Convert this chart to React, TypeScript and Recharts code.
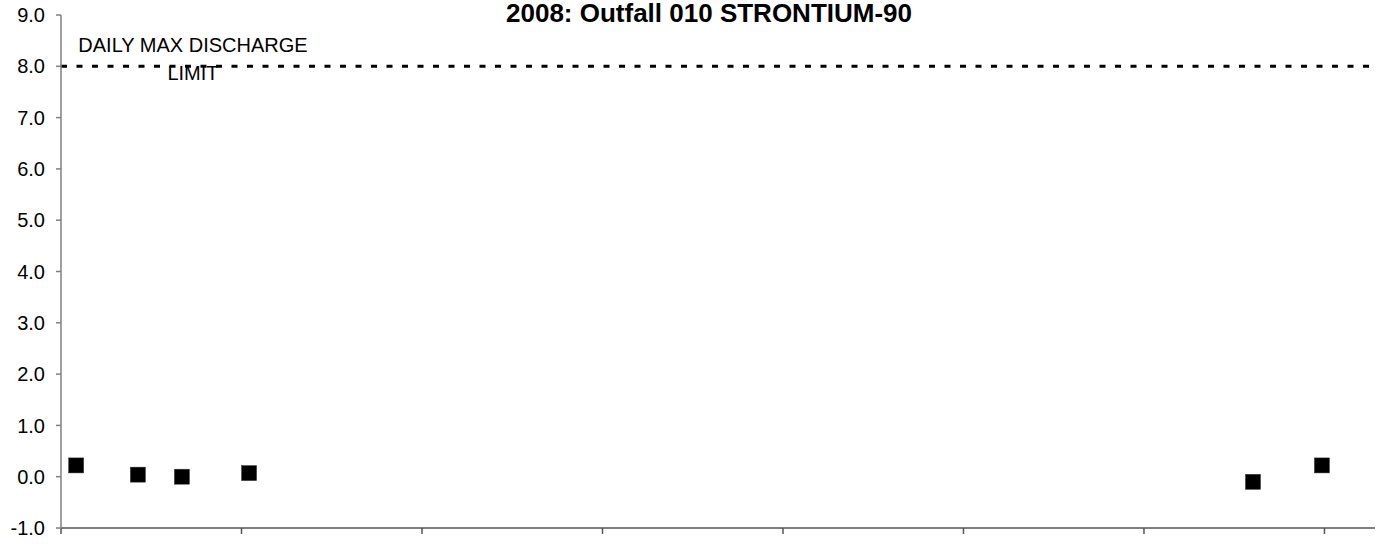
import React from 'react';
import { ScatterChart, Scatter, XAxis, YAxis, ReferenceLine } from 'recharts';

const sampleDays = [4.2, 21.3, 33.5, 52.1, 330.2, 349.3];
const sr90Values = [0.22, 0.04, 0.0, 0.07, -0.1, 0.22];
const yTicks = [-1, 0, 1, 2, 3, 4, 5, 6, 7, 8, 9];
const xTicks = [0, 50, 100, 150, 200, 250, 300, 350];
const limitValue = 8;
const limitLines = ['DAILY MAX DISCHARGE', 'LIMIT'];
const title = '2008: Outfall 010 STRONTIUM-90';

const data = sampleDays.map((d, i) => ({ x: d, y: sr90Values[i] }));

const FONT = '"Liberation Sans", Arial, Helvetica, sans-serif';

const Square = (props: any) => {
  const { cx, cy } = props;
  const s = 15;
  return <rect x={cx - s / 2} y={cy - s / 2} width={s} height={s} fill="#000" stroke="#333" strokeWidth={0.5} />;
};

const LimitLabel = (props: any) => {
  const vb = props.viewBox || {};
  const cx = (vb.x ?? 61) + 132;
  const y = vb.y ?? 67;
  return (
    <g>
      <text x={cx} y={y - 14} textAnchor="middle" fontFamily={FONT} fontSize={20} fill="#000">
        {limitLines[0]}
      </text>
      <text x={cx} y={y + 14} textAnchor="middle" fontFamily={FONT} fontSize={20} fill="#000">
        {limitLines[1]}
      </text>
    </g>
  );
};

export default function App() {
  return (
    <div style={{ position: 'absolute', left: 0, top: 0, width: 1380, height: 550, background: '#fff' }}>
      <div
        style={{
          position: 'absolute',
          left: 0,
          width: 1418,
          top: -2,
          textAlign: 'center',
          fontFamily: FONT,
          fontWeight: 'bold',
          fontSize: 26,
          lineHeight: '30px',
          color: '#000',
          zIndex: 2,
          whiteSpace: 'nowrap',
        }}
      >
        {title}
      </div>
      <ScatterChart width={1380} height={550} margin={{ top: 15, right: 5, bottom: 0, left: 0 }}>
        <XAxis
          type="number"
          dataKey="x"
          domain={[0, 364]}
          ticks={xTicks}
          interval={0}
          tickFormatter={() => ''}
          tick={{ fontSize: 1 }}
          tickSize={6}
          height={22}
          axisLine={{ stroke: '#555', strokeWidth: 1.5 }}
          tickLine={{ stroke: '#555', strokeWidth: 1.5 }}
          allowDataOverflow
        />
        <YAxis
          type="number"
          dataKey="y"
          domain={[-1, 9]}
          ticks={yTicks}
          width={61}
          tickSize={5}
          tickMargin={11}
          interval={0}
          tickFormatter={(v: number) => v.toFixed(1)}
          tick={{ fontFamily: FONT, fontSize: 20, fill: '#000' }}
          axisLine={{ stroke: '#808080', strokeWidth: 1.5 }}
          tickLine={{ stroke: '#808080', strokeWidth: 1.5 }}
          allowDataOverflow
        />
        <ReferenceLine
          y={limitValue}
          stroke="#000"
          strokeWidth={3}
          strokeDasharray="6 9.5"
          label={<LimitLabel />}
        />
        <Scatter data={data} shape={<Square />} isAnimationActive={false} />
      </ScatterChart>
    </div>
  );
}
